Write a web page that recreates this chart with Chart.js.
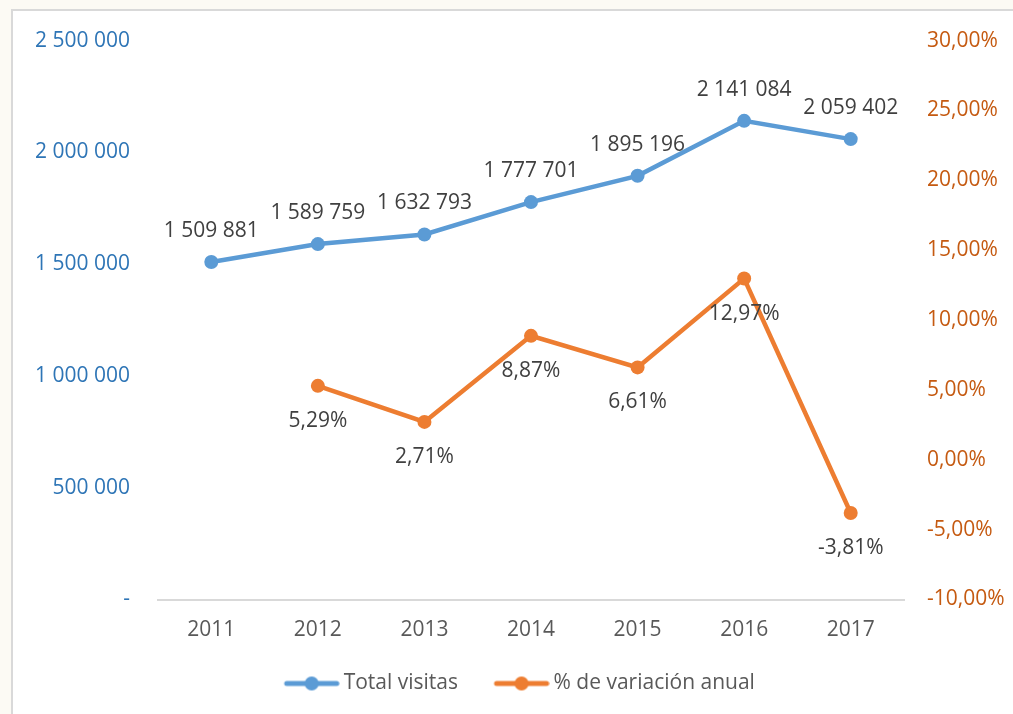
<!DOCTYPE html>
<html>
<head>
<meta charset="utf-8">
<script src="https://cdn.jsdelivr.net/npm/chart.js@4.4.0/dist/chart.umd.min.js"></script>
<style>
  html, body { margin: 0; padding: 0; background: #fcfaf4; }
  .frame { position: absolute; left: 11px; top: 9px; width: 1010px; height: 720px; border: 2px solid #d9d9d9; background: #fff; }
  .wrap { position: absolute; left: 0; top: 0; width: 1013px; height: 714px; }
</style>
</head>
<body>
<div class="frame"></div>
<div class="wrap"><canvas id="chart"></canvas></div>
<script>
// datos
const years = ['2011', '2012', '2013', '2014', '2015', '2016', '2017'];
const totalVisitas = [1509881, 1589759, 1632793, 1777701, 1895196, 2141084, 2059402];
const variacionAnual = [null, 5.29, 2.71, 8.87, 6.61, 12.97, -3.81];
const visitasTicks = { min: 0, max: 2500000, step: 500000 };
const variacionTicks = { min: -10, max: 30, step: 5 };

const BLUE = '#5b9bd5';
const ORANGE = '#ed7d31';
const FONT = '"Open Sans", "DejaVu Sans", sans-serif';
const SIZE = 21;

const fmtNum = v => v === 0 ? '-' : String(v).replace(/\B(?=(\d{3})+(?!\d))/g, ' ');
const fmtPct = v => v.toFixed(2).replace('.', ',') + '%';

// legend marker: line with a dot
function legendMarker(color) {
  const c = document.createElement('canvas');
  c.width = 88; c.height = 18;
  const g = c.getContext('2d');
  g.strokeStyle = color;
  g.lineWidth = 5;
  g.lineCap = 'round';
  g.beginPath();
  g.moveTo(88 - 56 + 3, 9);
  g.lineTo(88 - 3, 9);
  g.stroke();
  g.fillStyle = color;
  g.beginPath();
  g.arc(88 - 28, 9, 7, 0, Math.PI * 2);
  g.fill();
  return c;
}
const markers = [legendMarker(BLUE), legendMarker(ORANGE)];

const valueLabels = {
  id: 'valueLabels',
  afterDatasetsDraw(chart) {
    const ctx = chart.ctx;
    ctx.save();
    ctx.font = SIZE + 'px ' + FONT;
    ctx.fillStyle = '#404040';
    ctx.textAlign = 'center';
    ctx.textBaseline = 'middle';
    chart.data.datasets.forEach((ds, i) => {
      const meta = chart.getDatasetMeta(i);
      meta.data.forEach((pt, j) => {
        const v = ds.data[j];
        if (v == null) return;
        if (i === 0) ctx.fillText(fmtNum(v), pt.x, pt.y - 31);
        else ctx.fillText(fmtPct(v), pt.x, pt.y + 35);
      });
    });
    ctx.restore();
  }
};

new Chart(document.getElementById('chart'), {
  type: 'line',
  data: {
    labels: years,
    datasets: [{
      label: 'Total visitas',
      data: totalVisitas,
      yAxisID: 'y',
      borderColor: BLUE,
      backgroundColor: BLUE,
      borderWidth: 4.5,
      pointRadius: 7,
      pointBackgroundColor: BLUE,
      pointBorderColor: BLUE,
      pointBorderWidth: 0,
      tension: 0
    }, {
      label: '% de variación anual',
      data: variacionAnual,
      yAxisID: 'y1',
      borderColor: ORANGE,
      backgroundColor: ORANGE,
      borderWidth: 4.5,
      pointRadius: 7,
      pointBackgroundColor: ORANGE,
      pointBorderColor: ORANGE,
      pointBorderWidth: 0,
      tension: 0
    }]
  },
  options: {
    responsive: true,
    maintainAspectRatio: false,
    animation: false,
    layout: { padding: { top: 40, bottom: 10, left: 0, right: 0 } },
    plugins: {
      tooltip: { enabled: false },
      legend: {
        position: 'bottom',
        labels: {
          usePointStyle: true,
          pointStyleWidth: 75,
          padding: 10,
          color: '#595959',
          font: { family: FONT, size: SIZE },
          generateLabels(chart) {
            const items = Chart.defaults.plugins.legend.labels.generateLabels(chart);
            items.forEach((it, i) => { it.pointStyle = markers[i]; });
            return items;
          }
        }
      }
    },
    scales: {
      x: {
        offset: true,
        grid: { display: false, drawTicks: false },
        border: { color: '#d9d9d9', width: 2 },
        ticks: { color: '#595959', font: { family: FONT, size: SIZE }, padding: 18 },
        afterFit(s) { s.height = 63.5; }
      },
      y: {
        position: 'left',
        min: visitasTicks.min,
        max: visitasTicks.max,
        grid: { display: false, drawTicks: false },
        border: { display: false },
        ticks: {
          stepSize: visitasTicks.step,
          color: '#2e75b6',
          font: { family: FONT, size: SIZE },
          padding: 28,
          callback: v => fmtNum(v)
        },
        afterFit(s) { s.width = 158; }
      },
      y1: {
        position: 'right',
        min: variacionTicks.min,
        max: variacionTicks.max,
        grid: { display: false, drawTicks: false },
        border: { display: false },
        ticks: {
          stepSize: variacionTicks.step,
          color: '#c55a11',
          font: { family: FONT, size: SIZE },
          padding: 23,
          callback: v => fmtPct(v)
        },
        afterFit(s) { s.width = 109; }
      }
    }
  },
  plugins: [valueLabels]
});
</script>
</body>
</html>
